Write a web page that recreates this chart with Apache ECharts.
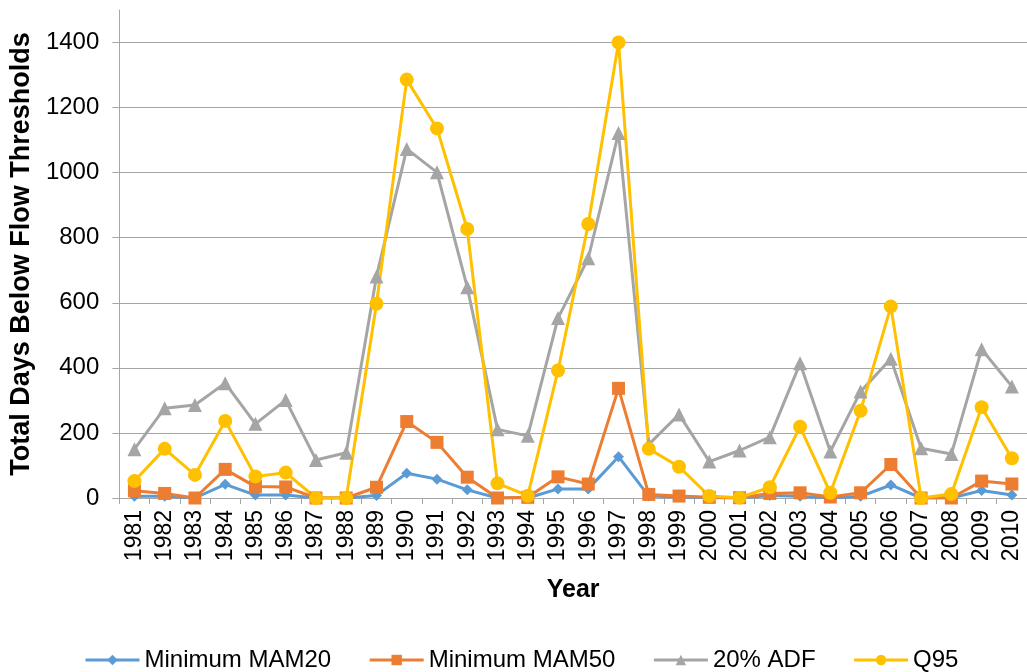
<!DOCTYPE html>
<html>
<head>
<meta charset="utf-8">
<title>Total Days Below Flow Thresholds</title>
<script src="https://cdn.jsdelivr.net/npm/echarts@6/dist/echarts.min.js"></script>
<style>
  html, body { margin: 0; padding: 0; background: #fff; }
  #flow { width: 1027px; height: 672px; }
</style>
</head>
<body>
<div id="flow"></div>
<script>
// years on the x axis
var years = ['1981', '1982', '1983', '1984', '1985', '1986', '1987', '1988', '1989', '1990',
  '1991', '1992', '1993', '1994', '1995', '1996', '1997', '1998', '1999', '2000',
  '2001', '2002', '2003', '2004', '2005', '2006', '2007', '2008', '2009', '2010']

// days below each threshold
var mam20 = [5, 5, 0, 42, 9, 9, 0, 0, 8, 76, 58, 25, 0, 0, 28, 28, 127, 6, 3, 1,
  0, 8, 5, 0, 5, 40, 0, 0, 23, 9]
var mam50 = [22, 14, 0, 88, 35, 34, 0, 0, 33, 235, 171, 64, 0, 2, 65, 43, 337, 11, 6, 2,
  1, 14, 16, 3, 16, 103, 0, 0, 52, 43]
var adf20 = [150, 276, 286, 353, 228, 301, 117, 139, 681, 1073, 1001, 648, 211, 191, 553, 737, 1122, 165, 257, 112,
  146, 187, 414, 143, 327, 428, 153, 135, 457, 343]
var q95 = [52, 151, 71, 237, 66, 78, 0, 0, 597, 1286, 1136, 827, 45, 7, 392, 842, 1400, 151, 96, 6,
  1, 33, 219, 16, 268, 589, 0, 12, 279, 122]

var seriesNames = ['Minimum MAM20', 'Minimum MAM50', '20% ADF', 'Q95']
var yTicks = { min: 0, max: 1500, interval: 200 }

var font = "'Liberation Sans', Arial, sans-serif"
var gridGrey = '#A6A6A6'

function makeSeries(name, data, color, symbol, size) {
  return {
    name: name,
    type: 'line',
    data: data,
    symbol: symbol,
    symbolSize: size,
    color: color,
    lineStyle: { width: 3, color: color },
    itemStyle: { color: color },
    emphasis: { disabled: true },
    animation: false
  }
}

var chart = echarts.init(document.getElementById('flow'))

chart.setOption({
  textStyle: { fontFamily: font, color: '#000' },
  grid: { left: 119, right: 0, top: 10, bottom: 174 },
  legend: {
    left: 79,
    top: 643,
    itemWidth: 54,
    itemHeight: 13,
    itemGap: 37,
    lineStyle: { width: 3, inactiveWidth: 3 },
    textStyle: { fontFamily: font, fontSize: 24, color: '#000' },
    data: seriesNames
  },
  xAxis: {
    type: 'category',
    data: years,
    boundaryGap: true,
    name: 'Year',
    nameLocation: 'middle',
    nameGap: 80,
    nameTextStyle: { fontFamily: font, fontSize: 25, fontWeight: 'bold', color: '#000' },
    axisLine: { lineStyle: { color: gridGrey, width: 1 } },
    axisTick: { show: true, length: 6, lineStyle: { color: gridGrey } },
    axisLabel: { interval: 0, rotate: 90, margin: 12, fontSize: 23, color: '#000', fontFamily: font },
    splitLine: { show: false }
  },
  yAxis: {
    type: 'value',
    min: yTicks.min,
    max: yTicks.max,
    interval: yTicks.interval,
    name: 'Total Days Below Flow Thresholds',
    nameLocation: 'middle',
    nameGap: 81,
    nameTextStyle: { fontFamily: font, fontSize: 27, fontWeight: 'bold', color: '#000' },
    axisLine: { show: true, lineStyle: { color: gridGrey, width: 1 } },
    axisTick: { show: true, length: 7, lineStyle: { color: gridGrey } },
    axisLabel: {
      margin: 20, fontSize: 24, color: '#000', fontFamily: font, showMaxLabel: false,
      formatter: function (v) { return String(v) }
    },
    splitLine: { show: true, showMaxLine: false, lineStyle: { color: gridGrey, width: 1 } }
  },
  series: [
    makeSeries(seriesNames[0], mam20, '#5B9BD5', 'diamond', 11),
    makeSeries(seriesNames[1], mam50, '#ED7D31', 'rect', 13),
    makeSeries(seriesNames[2], adf20, '#A5A5A5', 'triangle', 14),
    makeSeries(seriesNames[3], q95, '#FFC000', 'circle', 14)
  ]
})
</script>
</body>
</html>
